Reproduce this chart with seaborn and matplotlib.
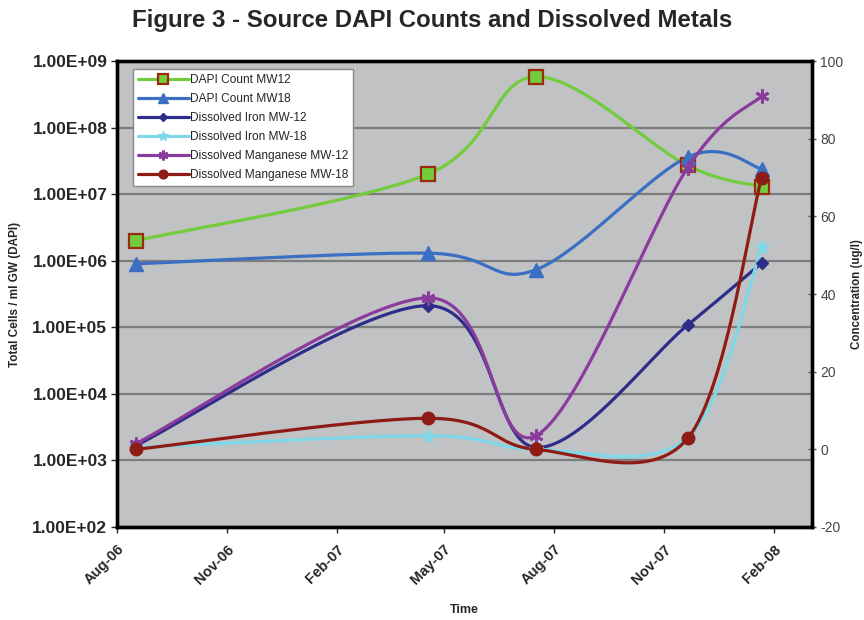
import numpy as np
import pandas as pd
import matplotlib
matplotlib.use("Agg")
import matplotlib.pyplot as plt
import matplotlib.dates as mdates
from matplotlib.lines import Line2D
from matplotlib.ticker import FuncFormatter, MultipleLocator, FixedLocator
import seaborn as sns

# Sampling dates
dates = pd.to_datetime(["2006-08-17", "2007-04-18", "2007-07-17", "2007-11-21", "2008-01-22"])

# Left axis: total cells / ml GW (DAPI)
dapi_mw12 = [2.0e6, 2.0e7, 5.8e8, 2.7e7, 1.3e7]
dapi_mw18 = [9.0e5, 1.3e6, 7.3e5, 3.6e7, 2.4e7]

# Right axis: concentration (ug/l)
iron_mw12 = [1.0, 37.0, 0.5, 32.0, 48.0]
iron_mw18 = [0.5, 3.5, 0.0, 3.0, 52.0]
mn_mw12 = [1.5, 39.0, 3.5, 72.5, 91.0]
mn_mw18 = [0.0, 8.0, 0.0, 2.8, 70.0]

labels = ["DAPI Count MW12", "DAPI Count MW18", "Dissolved Iron MW-12",
          "Dissolved Iron MW-18", "Dissolved Manganese MW-12", "Dissolved Manganese MW-18"]


def smooth_line(xs, ys, n=60):
    # Excel-style smoothed line (bezier through the points), drawing only
    pts = np.column_stack([xs, ys]).astype(float)
    t = np.linspace(0, 1, n)[:, None]
    out = []
    for i in range(len(pts) - 1):
        p0 = pts[max(i - 1, 0)]
        p1 = pts[i]
        p2 = pts[i + 1]
        p3 = pts[min(i + 2, len(pts) - 1)]
        c1 = p1 + (p2 - p0) / 6.0
        c2 = p2 - (p3 - p1) / 6.0
        seg = ((1 - t) ** 3) * p1 + 3 * ((1 - t) ** 2) * t * c1 + 3 * (1 - t) * t ** 2 * c2 + t ** 3 * p2
        out.append(seg if i == 0 else seg[1:])
    seg = np.vstack(out)
    return seg[:, 0], seg[:, 1]


sns.set_style("white")
plt.rcParams["font.family"] = ["Liberation Sans", "DejaVu Sans"]
plt.rcParams["axes.unicode_minus"] = False

fig = plt.figure(figsize=(8.64, 6.2), dpi=100)
ax = fig.add_axes([0.1354, 0.15, 0.8044, 0.7516])
ax.set_facecolor("#c0c2c3")
ax2 = ax.twinx()

xnum = mdates.date2num(dates)

left_series = [
    (dapi_mw12, dict(color="#73cc3c", marker="s", ms=10, mfc="#73cc3c", mec="#9a2a10", mew=1.6)),
    (dapi_mw18, dict(color="#3a6fc4", marker="^", ms=10, mfc="#3a6fc4", mec="#3a6fc4", mew=1)),
]
right_series = [
    (iron_mw12, dict(color="#2e2e8a", marker="D", ms=6, mfc="#2e2e8a", mec="#2e2e8a", mew=1)),
    (iron_mw18, dict(color="#7fd8ea", marker="*", ms=10, mfc="#7fd8ea", mec="#7fd8ea", mew=1)),
    (mn_mw12, dict(color="#8b3a9e", marker=(6, 2, 0), ms=10, mfc="#8b3a9e", mec="#8b3a9e", mew=2)),
    (mn_mw18, dict(color="#8e1b14", marker="o", ms=9, mfc="#8e1b14", mec="#8e1b14", mew=1)),
]

handles = []
for vals, st in left_series:
    sx, sy = smooth_line(xnum, np.log10(vals))
    sns.lineplot(x=sx, y=10 ** sy, ax=ax, color=st["color"], lw=2.3, sort=False, estimator=None, zorder=3)
    ax.plot(xnum, vals, ls="none", zorder=4, **st)
    handles.append(Line2D([], [], lw=2.3, **st))

for vals, st in right_series:
    sx, sy = smooth_line(xnum, vals)
    sns.lineplot(x=sx, y=sy, ax=ax2, color=st["color"], lw=2.3, sort=False, estimator=None, zorder=3)
    ax2.plot(xnum, vals, ls="none", zorder=4, **st)
    handles.append(Line2D([], [], lw=2.3, **st))

# Left axis
ax.set_yscale("log")
ax.set_ylim(1e2, 1e9)
ax.yaxis.set_major_locator(FixedLocator([10.0 ** k for k in range(2, 10)]))
ax.yaxis.set_minor_locator(FixedLocator([]))
ax.yaxis.set_major_formatter(FuncFormatter(lambda v, p: f"{v:.2E}"))
ax.grid(axis="y", color="#7d7d7d", lw=1.6)
ax.grid(axis="x", visible=False)
ax.set_axisbelow(True)
ax.tick_params(axis="y", labelsize=12.5, length=4, width=1, direction="out", left=True, pad=3)
for lab in ax.get_yticklabels():
    lab.set_fontweight("bold")
ax.set_ylabel("Total Cells / ml GW (DAPI)", fontsize=8.5, fontweight="bold", labelpad=8)

# X axis (dates)
ax.set_xlim(mdates.date2num(pd.Timestamp("2006-08-01")), mdates.date2num(pd.Timestamp("2008-03-04")))
ax.xaxis.set_major_locator(mdates.MonthLocator(bymonth=[2, 5, 8, 11]))
ax.xaxis.set_major_formatter(mdates.DateFormatter("%b-%y"))
ax.tick_params(axis="x", labelsize=10.5, length=4, width=1, direction="out", bottom=True, pad=7)
for lab in ax.get_xticklabels():
    lab.set_fontweight("bold")
    lab.set_rotation(45)
    lab.set_ha("right")
    lab.set_rotation_mode("anchor")
ax.set_xlabel("Time", fontsize=9, fontweight="bold", labelpad=12)

# Right axis
ax2.set_ylim(-20, 100)
ax2.yaxis.set_major_locator(MultipleLocator(20))
ax2.tick_params(axis="y", labelsize=10, length=6, width=1, direction="inout", right=True,
                colors="#555555", labelcolor="#444444", pad=3)
ax2.set_ylabel("Concentration (ug/l)", fontsize=8.3, fontweight="bold")
ax2.yaxis.set_label_coords(1.056, 0.5)
ax2.grid(False)

for a in (ax, ax2):
    for sp in a.spines.values():
        sp.set_color("black")
        sp.set_linewidth(2.4)

leg = ax2.legend(handles, labels, loc="upper left", bbox_to_anchor=(0.023, 0.983), fontsize=8.6,
                 frameon=True, fancybox=False, edgecolor="#888888", framealpha=1, markerscale=0.7,
                 handlelength=4.2, handletextpad=0.1, labelspacing=0.58, borderpad=0.45,
                 borderaxespad=0)
leg.get_frame().set_linewidth(1)

fig.suptitle("Figure 3 - Source DAPI Counts and Dissolved Metals", fontsize=17.3, fontweight="bold", y=0.985)

fig.savefig("out.png", dpi=100)
